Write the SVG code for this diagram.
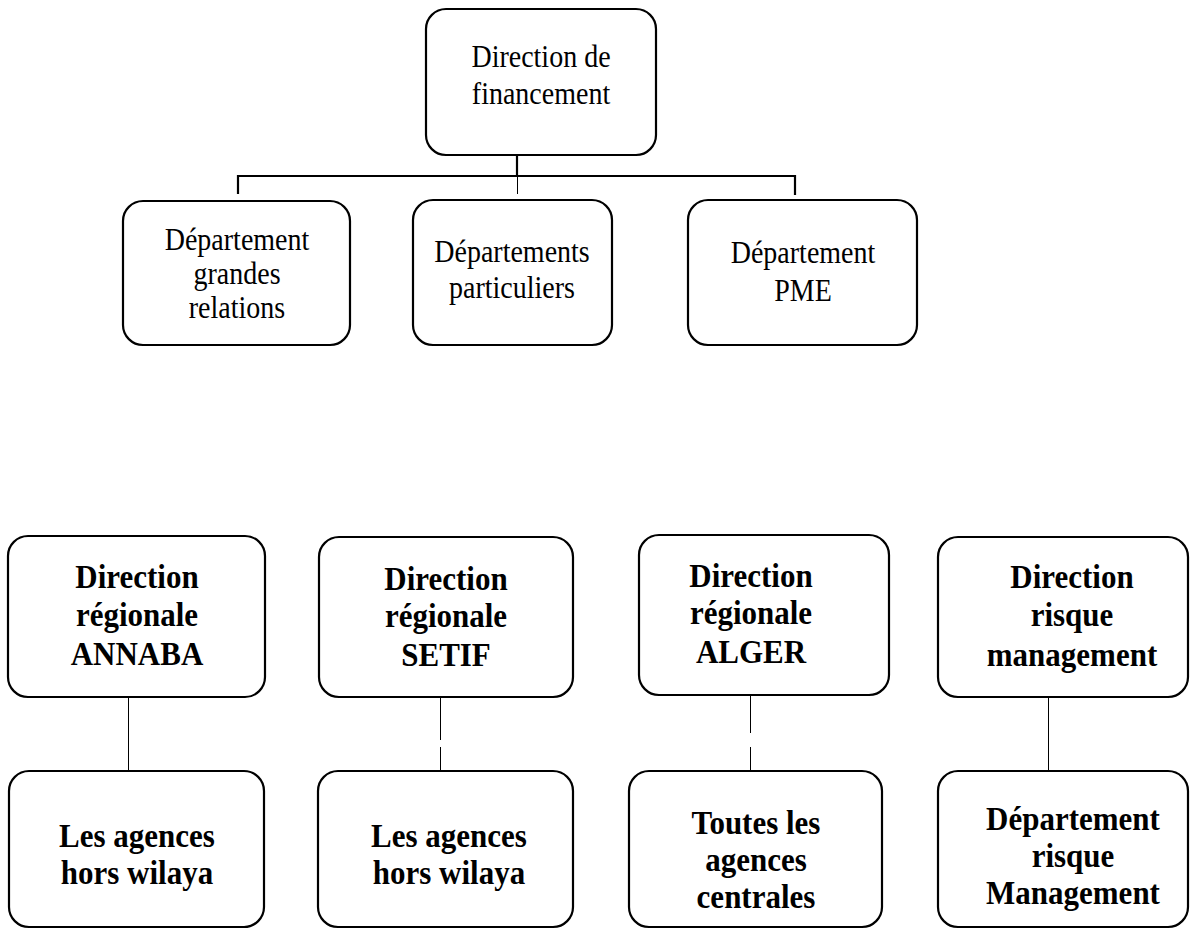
<svg xmlns="http://www.w3.org/2000/svg" width="1193" height="929" viewBox="0 0 1193 929">
  <style>
    .box { fill: #ffffff; stroke: #000000; stroke-width: 2.2; }
    .reg { font-family: "Liberation Serif", "Times New Roman", serif; font-size: 28px; fill: #000000; text-anchor: middle; }
    .bold { font-family: "Liberation Serif", "Times New Roman", serif; font-size: 31px; font-weight: bold; fill: #000000; text-anchor: middle; }
    .wire { fill: none; stroke: #000000; }
    .thick { stroke-width: 2.2; }
    .thin { stroke-width: 1; }
  </style>
  <rect width="1193" height="929" fill="#ffffff"/>

  <!-- connectors -->
  <g id="connectors">
    <line class="wire thick" x1="517" y1="155" x2="517" y2="176"/>
    <polyline class="wire thick" points="238,194 238,176 795,176 795,195"/>
    <line class="wire thin" x1="517.5" y1="176" x2="517.5" y2="194"/>
    <line class="wire thin" x1="128.5" y1="697" x2="128.5" y2="771"/>
    <line class="wire thin" x1="440.5" y1="697" x2="440.5" y2="740"/>
    <line class="wire thin" x1="440.5" y1="747" x2="440.5" y2="771"/>
    <line class="wire thin" x1="750.5" y1="695" x2="750.5" y2="733"/>
    <line class="wire thin" x1="750.5" y1="747" x2="750.5" y2="771"/>
    <line class="wire thin" x1="1048.5" y1="697" x2="1048.5" y2="771"/>
  </g>

  <!-- head -->
  <g id="direction-financement">
    <rect class="box" x="426" y="9" width="230" height="146" rx="20"/>
    <text class="reg" transform="translate(541 67) scale(1 1.12)">Direction de</text>
    <text class="reg" transform="translate(541 104) scale(1 1.12)">financement</text>
  </g>

  <!-- departments -->
  <g id="dept-grandes-relations">
    <rect class="box" x="123" y="201" width="227" height="144" rx="20"/>
    <text class="reg" transform="translate(237 250) scale(1 1.12)">Département</text>
    <text class="reg" transform="translate(237 284) scale(1 1.12)">grandes</text>
    <text class="reg" transform="translate(237 318) scale(1 1.12)">relations</text>
  </g>
  <g id="dept-particuliers">
    <rect class="box" x="413" y="200" width="199" height="145" rx="20"/>
    <text class="reg" transform="translate(512 262) scale(1 1.12)">Départements</text>
    <text class="reg" transform="translate(512 298) scale(1 1.12)">particuliers</text>
  </g>
  <g id="dept-pme">
    <rect class="box" x="688" y="200" width="229" height="145" rx="20"/>
    <text class="reg" transform="translate(803 263) scale(1 1.12)">Département</text>
    <text class="reg" transform="translate(803 301) scale(1 1.12)">PME</text>
  </g>

  <!-- regional directions -->
  <g id="dr-annaba">
    <rect class="box" x="8" y="536" width="257" height="161" rx="20"/>
    <text class="bold" transform="translate(137 588) scale(1 1.12)">Direction</text>
    <text class="bold" transform="translate(137 626) scale(1 1.12)">régionale</text>
    <text class="bold" transform="translate(137 665) scale(1 1.12)">ANNABA</text>
  </g>
  <g id="agences-annaba">
    <rect class="box" x="9" y="771" width="255" height="156" rx="20"/>
    <text class="bold" transform="translate(137 847) scale(1 1.12)">Les agences</text>
    <text class="bold" transform="translate(137 884) scale(1 1.12)">hors wilaya</text>
  </g>

  <g id="dr-setif">
    <rect class="box" x="319" y="537" width="254" height="160" rx="20"/>
    <text class="bold" transform="translate(446 590) scale(1 1.12)">Direction</text>
    <text class="bold" transform="translate(446 627) scale(1 1.12)">régionale</text>
    <text class="bold" transform="translate(446 666) scale(1 1.12)">SETIF</text>
  </g>
  <g id="agences-setif">
    <rect class="box" x="318" y="771" width="255" height="156" rx="20"/>
    <text class="bold" transform="translate(449 847) scale(1 1.12)">Les agences</text>
    <text class="bold" transform="translate(449 884) scale(1 1.12)">hors wilaya</text>
  </g>

  <g id="dr-alger">
    <rect class="box" x="639" y="535" width="250" height="160" rx="20"/>
    <text class="bold" transform="translate(751 587) scale(1 1.12)">Direction</text>
    <text class="bold" transform="translate(751 624) scale(1 1.12)">régionale</text>
    <text class="bold" transform="translate(751 663) scale(1 1.12)">ALGER</text>
  </g>
  <g id="agences-alger">
    <rect class="box" x="629" y="771" width="253" height="156" rx="20"/>
    <text class="bold" transform="translate(756 834) scale(1 1.12)">Toutes les</text>
    <text class="bold" transform="translate(756 871) scale(1 1.12)">agences</text>
    <text class="bold" transform="translate(756 908) scale(1 1.12)">centrales</text>
  </g>

  <g id="direction-risque">
    <rect class="box" x="938" y="537" width="250" height="160" rx="20"/>
    <text class="bold" transform="translate(1072 588) scale(1 1.12)">Direction</text>
    <text class="bold" transform="translate(1072 626) scale(1 1.12)">risque</text>
    <text class="bold" transform="translate(1072 666) scale(1 1.12)">management</text>
  </g>
  <g id="dept-risque">
    <rect class="box" x="938" y="771" width="250" height="156" rx="20"/>
    <text class="bold" transform="translate(1073 830) scale(1 1.12)">Département</text>
    <text class="bold" transform="translate(1073 867) scale(1 1.12)">risque</text>
    <text class="bold" transform="translate(1073 904) scale(1 1.12)">Management</text>
  </g>
</svg>
